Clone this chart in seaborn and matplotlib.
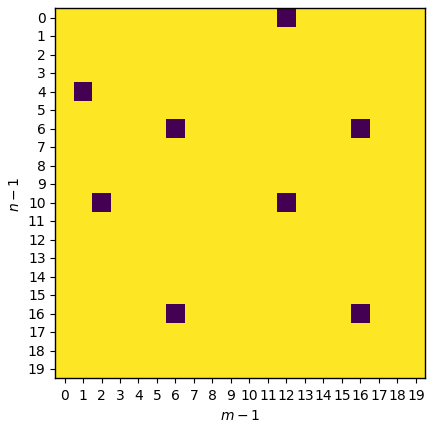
import numpy as np
import pandas as pd
import matplotlib
matplotlib.use("Agg")
import matplotlib.pyplot as plt
import seaborn as sns


# -------------------------
# DATA
# -------------------------
n_rows = 20
n_cols = 20
zero_rows = [0, 4, 6, 6, 10, 10, 16, 16]
zero_cols = [12, 1, 6, 16, 2, 12, 6, 16]
row_labels = [str(i) for i in range(n_rows)]
col_labels = [str(j) for j in range(n_cols)]


# -------------------------
# BUILD GRID
# -------------------------
def build_grid():
    grid = np.ones((n_rows, n_cols))
    for r, c in zip(zero_rows, zero_cols):
        grid[r, c] = 0
    return pd.DataFrame(grid, index=row_labels, columns=col_labels)


# -------------------------
# PLOT
# -------------------------
def plot_grid(df):
    fig = plt.figure(figsize=(4.34, 4.31), dpi=100)
    ax = fig.add_axes([0.1274, 0.12, 0.852, 0.858])
    sns.heatmap(df, cmap="viridis", cbar=False, ax=ax, linewidths=0,
                xticklabels=col_labels, yticklabels=row_labels)
    for spine in ax.spines.values():
        spine.set_visible(True)
        spine.set_linewidth(1.0)
        spine.set_color("black")
    ax.tick_params(axis="both", length=3.5, width=0.8, labelsize=10)
    ax.set_xticklabels(col_labels, rotation=0)
    ax.set_yticklabels(row_labels, rotation=0)
    ax.set_xlabel("$m-1$")
    ax.set_ylabel("$n-1$")
    fig.savefig("out.png", dpi=100)


if __name__ == "__main__":
    df = build_grid()
    plot_grid(df)
